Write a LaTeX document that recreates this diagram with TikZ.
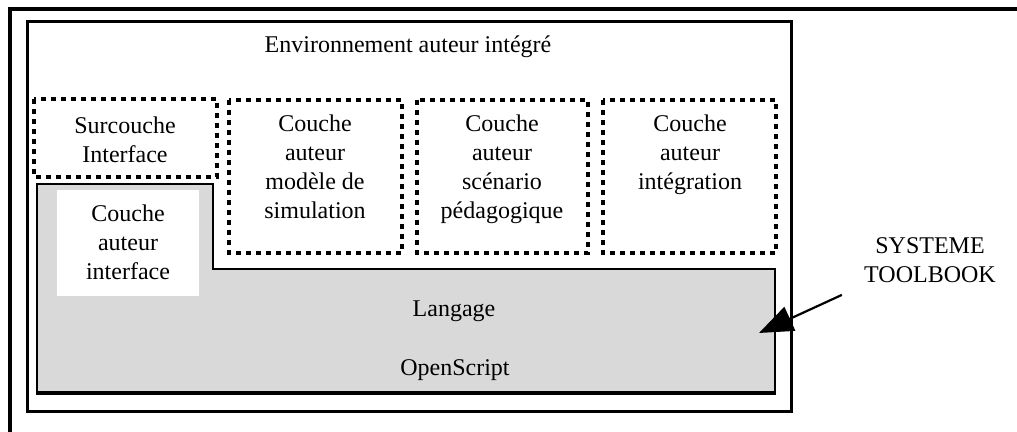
\documentclass[tikz,border=0pt]{standalone}
\usepackage{fontspec}
\setmainfont{Liberation Serif}
\usetikzlibrary{arrows.meta,calc}
\definecolor{langgray}{RGB}{217,217,217}
\tikzset{
  dotbox/.style={line width=1.8pt, dash pattern=on 2.3pt off 2.7pt},
  txt/.style={align=center, inner sep=0pt, font=\fontsize{12}{14.5}\selectfont},
}
\begin{document}
\begin{tikzpicture}[x=0.5pt,y=-0.5pt]
    \useasboundingbox (0,0) rectangle (1017,432);
    \draw[line width=1.6pt] (10,432) -- (10,9) -- (1017,9);
    \draw[line width=1.5pt] (27,22) rectangle (791,412);
    % Langage OpenScript
    \fill[langgray] (37,184) -- (213,184) -- (213,269) -- (775,269) -- (775,393) -- (37,393) -- cycle;
    \draw[line width=1.2pt] (37,393) -- (37,184) -- (213,184) -- (213,269) -- (775,269) -- (775,393);
    \draw[line width=1.7pt] (36,393) -- (776,393);
    \fill[white] (57,190) rectangle (199,296);
    % couches auteur
    \draw[dotbox] (34,99) rectangle (217,177);
    \foreach \xa/\xb in {229/402,417/588,603/776}
    \draw[dotbox] (\xa,100) rectangle (\xb,253);
    \node[txt,anchor=base] (env) at (408,53) {Environnement auteur intégré};
    \node[txt,anchor=north] (surc) at (125,116.5) {Surcouche\\Interface};
    \node[txt,anchor=north] (simu) at (315,114.5) {Couche\\auteur\\modèle de\\simulation};
    \node[txt,anchor=north] (scen) at (502,114.5) {Couche\\auteur\\scénario\\pédagogique};
    \node[txt,anchor=north] (integ) at (690,114.5) {Couche\\auteur\\intégration};
    \node[txt,anchor=north] (inter) at (128,204.5) {Couche\\auteur\\interface};
    \node[txt,anchor=base] (lang) at (454,317) {Langage};
    \node[txt,anchor=base] (opens) at (455,376) {OpenScript};
    \node[txt,anchor=north] (sys) at (930,237) {SYSTEME\\TOOLBOOK};
    \coordinate (stack) at (759,333);
    \draw[-{Triangle[length=17pt,width=13pt]},line width=1.1pt] ($(sys.south west)+(-22,12)$) -- (stack);
\end{tikzpicture}
\end{document}
